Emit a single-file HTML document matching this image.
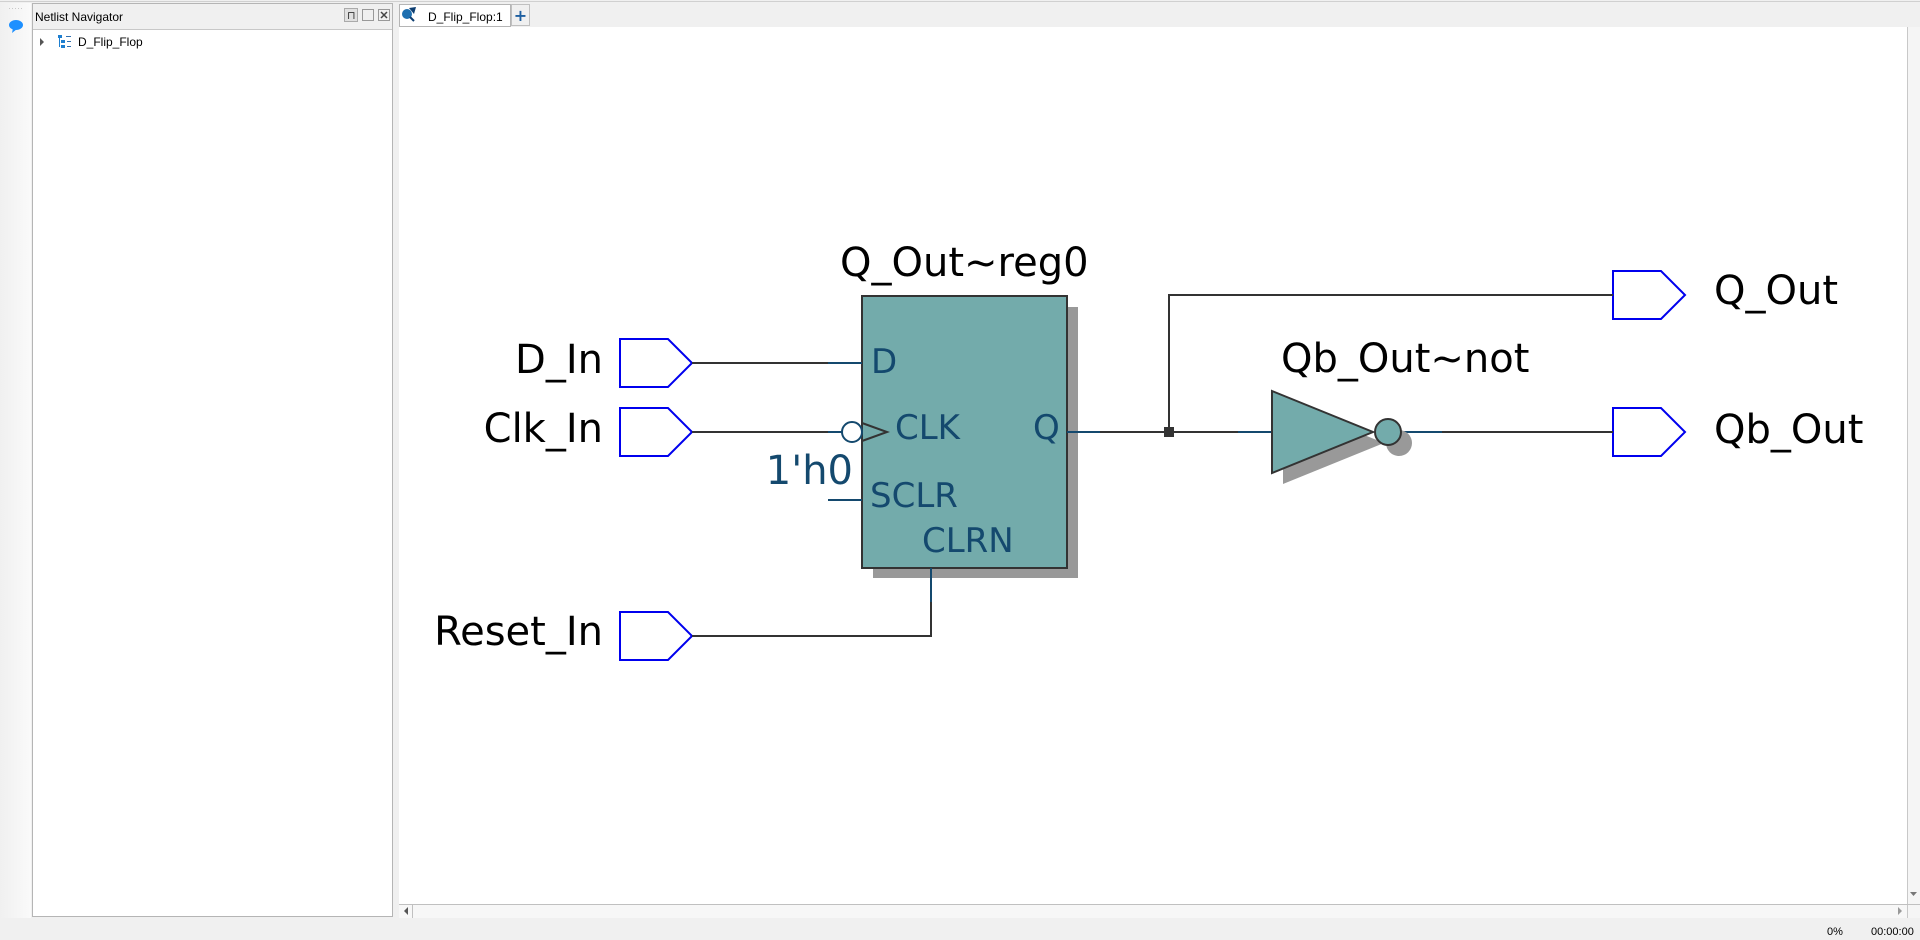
<!DOCTYPE html>
<html><head><meta charset="utf-8"><style>
html,body{margin:0;padding:0;background:#f0f0f0;width:1920px;height:940px;overflow:hidden}
svg{display:block}
</style></head><body>
<svg width="1920" height="940" viewBox="0 0 1920 940" xmlns="http://www.w3.org/2000/svg">
<defs><linearGradient id="sb" x1="0" x2="1"><stop offset="0" stop-color="#f0f0f0"/><stop offset="1" stop-color="#fafafa"/></linearGradient></defs>
<rect x="0" y="0" width="1920" height="940" fill="#f0f0f0"/>
<line x1="0" y1="1.5" x2="1920" y2="1.5" stroke="#d0d0d0"/>
<rect x="0" y="3" width="31" height="915" fill="url(#sb)"/>
<g fill="#c8c8c8"><rect x="9" y="8" width="1" height="1"/><rect x="12" y="8" width="1" height="1"/><rect x="15" y="8" width="1" height="1"/><rect x="18" y="8" width="1" height="1"/><rect x="21" y="8" width="1" height="1"/></g>
<ellipse cx="16" cy="25" rx="7" ry="5" fill="#1e90ff"/><path d="M13 28 L12 33 L17 29 Z" fill="#1e90ff"/>
<!-- left panel -->
<rect x="32.5" y="3.5" width="360" height="913" fill="#fff" stroke="#b5b5b5"/>
<rect x="33" y="4" width="359" height="25" fill="#f0f0f0"/>
<line x1="33" y1="29.5" x2="392" y2="29.5" stroke="#c8c8c8"/>
<text x="35" y="21" font-family="Liberation Sans, sans-serif" font-size="12" fill="#000">Netlist Navigator</text>
<rect x="344.5" y="8.5" width="13" height="13" fill="#e0e0e0" stroke="#aaa"/>
<text x="347" y="19" font-family="DejaVu Sans, sans-serif" font-size="11" fill="#333">⊓</text>
<rect x="362.5" y="9.5" width="11" height="11" fill="#f0f0f0" stroke="#999"/>
<rect x="378.5" y="9.5" width="11" height="11" fill="#f0f0f0" stroke="#999"/>
<path d="M381 12 L387 18 M387 12 L381 18" stroke="#444" stroke-width="1.5"/>
<path d="M40 38 L44 42 L40 46 Z" fill="#555"/>
<g fill="#1e7fd0"><rect x="58" y="35" width="4" height="3"/><rect x="61" y="40" width="4" height="3"/><rect x="61" y="45" width="4" height="3"/><rect x="59" y="38" width="1" height="9"/></g>
<g fill="#3070b0"><rect x="66" y="36" width="5" height="1"/><rect x="67" y="41" width="4" height="1"/><rect x="67" y="46" width="4" height="1"/></g>
<text x="78" y="46" font-family="Liberation Sans, sans-serif" font-size="12" fill="#000">D_Flip_Flop</text>
<!-- tabs -->
<rect x="399.5" y="4.5" width="111" height="22" fill="#fff" stroke="#b5b5b5"/>
<circle cx="407" cy="14" r="5" fill="#1e6fb0"/><path d="M409 8 L416 7 L414 14 Z" fill="#0d3d70"/><line x1="410" y1="17" x2="414" y2="21" stroke="#0d3d70" stroke-width="2"/>
<text x="428" y="21" font-family="Liberation Sans, sans-serif" font-size="12" fill="#000">D_Flip_Flop:1</text>
<rect x="511.5" y="4.5" width="18" height="21" fill="#f0f0f0" stroke="#c0c0c0"/>
<text x="520.5" y="21" text-anchor="middle" font-family="DejaVu Sans, sans-serif" font-size="16" font-weight="bold" fill="#1e5fa0">+</text>
<!-- canvas -->
<rect x="399" y="27" width="1508" height="877" fill="#fff"/>
<line x1="1907.5" y1="27" x2="1907.5" y2="918" stroke="#c8c8c8"/>
<rect x="1908" y="27" width="12" height="891" fill="#f5f5f5"/>
<path d="M1910 892 L1917 892 L1913.5 896 Z" fill="#777"/>
<rect x="399" y="904" width="1508" height="14" fill="#f7f7f7"/>
<line x1="399" y1="904.5" x2="1920" y2="904.5" stroke="#c0c0c0"/>
<line x1="412.5" y1="905" x2="412.5" y2="918" stroke="#c0c0c0"/>
<path d="M408 907 L408 915 L404 911 Z" fill="#555"/>
<path d="M1898 907 L1898 915 L1902 911 Z" fill="#999"/>
<text x="1827" y="935" font-family="Liberation Sans, sans-serif" font-size="11" fill="#000">0%</text>
<text x="1871" y="935" font-family="Liberation Sans, sans-serif" font-size="11" fill="#000">00:00:00</text>

<!-- schematic -->
<g font-family="DejaVu Sans, sans-serif">
<g fill="#fff" stroke="#0000ee" stroke-width="2">
<path d="M620 339 H668 L692 363 L668 387 H620 Z"/>
<path d="M620 408 H668 L692 432 L668 456 H620 Z"/>
<path d="M620 612 H668 L692 636 L668 660 H620 Z"/>
<path d="M1613 271 H1661 L1685 295 L1661 319 H1613 Z"/>
<path d="M1613 408 H1661 L1685 432 L1661 456 H1613 Z"/>
</g>
<g font-size="40" fill="#000">
<text x="603" y="373" text-anchor="end">D_In</text>
<text x="603" y="442" text-anchor="end">Clk_In</text>
<text x="603" y="645" text-anchor="end">Reset_In</text>
<text x="1714" y="304">Q_Out</text>
<text x="1714" y="443">Qb_Out</text>
<text x="840" y="276">Q_Out~reg0</text>
<text x="1281" y="372">Qb_Out~not</text>
</g>
<rect x="873" y="307" width="205" height="271" fill="#999"/>
<rect x="862" y="296" width="205" height="272" fill="#73abab" stroke="#333" stroke-width="2"/>
<g stroke="#333" stroke-width="2" fill="none">
<path d="M692 363 H828"/>
<path d="M692 432 H828"/>
<path d="M692 636 H931 V602"/>
<path d="M1100 432 H1238"/>
<path d="M1169 432 V295 H1613"/>
<path d="M1442 432 H1613"/>
</g>
<g stroke="#14496e" stroke-width="2" fill="none">
<path d="M828 363 H862"/>
<path d="M828 432 H842"/>
<path d="M828 500 H862"/>
<path d="M931 568 V602"/>
<path d="M1067 432 H1100"/>
<path d="M1238 432 H1272"/>
<path d="M1401 432 H1442"/>
</g>
<rect x="1164" y="427" width="10" height="10" fill="#333"/>
<circle cx="852" cy="432" r="10" fill="#fff" stroke="#14496e" stroke-width="2"/>
<path d="M862 423 L887 432 L862 441" fill="none" stroke="#333" stroke-width="2"/>
<g font-size="34" fill="#14496e">
<text x="871" y="373">D</text>
<text x="895" y="439">CLK</text>
<text x="1033" y="439">Q</text>
<text x="870" y="507">SCLR</text>
<text x="922" y="552">CLRN</text>
</g>
<text x="853" y="484" text-anchor="end" font-size="40" fill="#14496e">1'h0</text>
<path d="M1283 402 L1384 443 L1283 484 Z" fill="#999"/>
<circle cx="1399" cy="443" r="13" fill="#999"/>
<path d="M1272 391 L1373 432 L1272 473 Z" fill="#73abab" stroke="#333" stroke-width="2"/>
<circle cx="1388" cy="432" r="13" fill="#73abab" stroke="#333" stroke-width="2"/>
</g>
</svg>
</body></html>
